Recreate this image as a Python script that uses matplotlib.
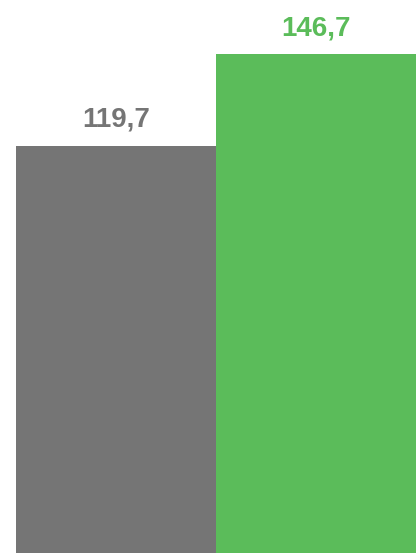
import matplotlib
matplotlib.use("Agg")
import matplotlib.pyplot as plt

categories = ["A", "B"]
values = [119.7, 146.7]
labels = ["119,7", "146,7"]
colors = ["#757575", "#5BBC5A"]

fig = plt.figure(figsize=(4.16, 5.53), dpi=100)
ax = fig.add_axes([16/416, 0, 1 - 16/416, 1])
x = list(range(len(categories)))
ax.bar(x, values, width=1.0, color=colors, linewidth=0)
ax.set_xlim(-0.5, 1.5)
ax.set_ylim(0, 162.6)
for xi, v, lab, c in zip(x, values, labels, colors):
    ax.annotate(lab, (xi, v), xytext=(0, 13.7), textcoords="offset points",
                ha="center", va="baseline", fontsize=20, fontweight="bold",
                color=c, family="Liberation Sans")
ax.axis("off")
fig.savefig("out.png", dpi=100)
